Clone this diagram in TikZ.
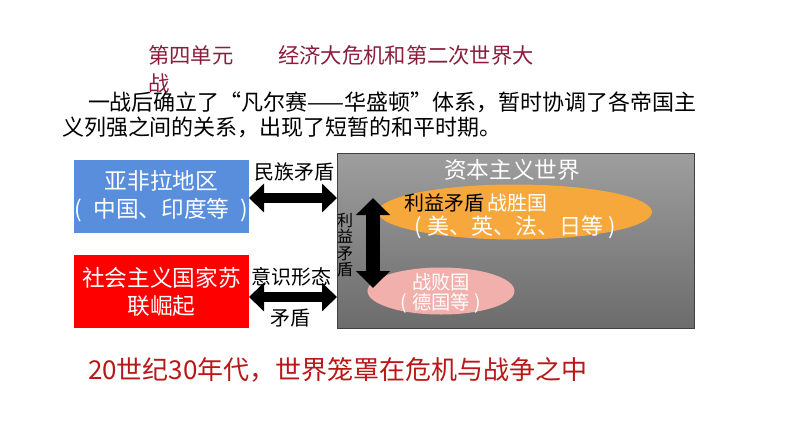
\documentclass[tikz,border=0pt]{standalone}
\usepackage{fontspec}
\newfontfamily\cjk{Noto Sans CJK SC}
\usetikzlibrary{arrows.meta,shapes.geometric}
\definecolor{titlec}{RGB}{140,30,60}
\definecolor{bluebox}{RGB}{88,142,220}
\definecolor{redbox}{RGB}{255,0,0}
\definecolor{graytop}{RGB}{158,158,158}
\definecolor{graybot}{RGB}{108,108,108}
\definecolor{grayedge}{RGB}{64,64,64}
\definecolor{orangec}{RGB}{247,168,60}
\definecolor{pinkc}{RGB}{242,176,172}
\definecolor{bottomred}{RGB}{184,24,24}
\tikzset{
  fsz/.style={font=\cjk\fontsize{#1}{18}\selectfont},
  titletext/.style={font=\cjk\fontsize{16}{19}\selectfont, text=titlec, anchor=west},
  bodytext/.style={font=\cjk\fontsize{16.5}{20}\selectfont, text=black, anchor=west},
  sidebox/.style={minimum width=131.25pt, minimum height=54.75pt, align=center, text=white,
     font=\cjk\fontsize{17}{21}\selectfont},
  hdblarrow/.style={line width=7.5pt, {Triangle[length=11.25pt,width=21pt]}-{Triangle[length=11.25pt,width=21pt]}},
  vdblarrow/.style={line width=11pt, {Triangle[length=12.75pt,width=24.75pt]}-{Triangle[length=12.75pt,width=24.75pt]}},
  lbl/.style={font=\cjk\fontsize{15}{18}\selectfont, text=black},
}
\begin{document}
\begin{tikzpicture}[x=0.75pt,y=-0.75pt, every node/.style={inner sep=0pt, outer sep=0pt}]
\useasboundingbox[fill=white] (0,0) rectangle (794,447);

% title and introduction
\node[titletext] (t1) at (148,55) {第四单元};
\node[titletext] (t2) at (278,55) {经济大危机和第二次世界大};
\node[titletext] (t3) at (148,83) {战};
\node[bodytext] (b1) at (88,102) {一战后确立了“凡尔赛——华盛顿”体系，暂时协调了各帝国主};
\node[bodytext] (b2) at (62,127) {义列强之间的关系，出现了短暂的和平时期。};

% left boxes
\node[sidebox, fill=bluebox] (blue) at (161.5,196.5) {亚非拉地区\\(\enspace 中国、印度等\enspace)};
\node[sidebox, fill=redbox] (red) at (161.5,291.5) {社会主义国家苏\\联崛起};

% capitalist world
\node[minimum width=267.75pt, minimum height=131.25pt, top color=graytop, bottom color=graybot,
      draw=grayedge, line width=0.6pt] (gray) at (515.5,240.5) {};
\node[font=\cjk\fontsize{17}{20}\selectfont, text=white] (gtitle) at (512,170) {资本主义世界};

\node[ellipse, fill=orangec, minimum width=205.5pt, minimum height=41.25pt] (win) at (515,212) {};
\node[ellipse, fill=pinkc, minimum width=110.25pt, minimum height=35.25pt] (lose) at (441,291) {};

\node[fsz=15, text=black, anchor=west] (wl1) at (404,203) {利益矛盾};
\node[fsz=15, text=white, anchor=west] (wl2) at (487,203) {战胜国};
\node[font=\cjk\fontsize{16.5}{20}\selectfont, text=white] (wl3) at (515,227) {(\hspace{0.25em}美、英、法、日等\hspace{0.25em})};
\node[fsz=14.5, text=white] (ll1) at (441,282) {战败国};
\node[fsz=14.5, text=white] (ll2) at (441,303) {(\hspace{0.25em}德国等\hspace{0.25em})};

% connectors
\coordinate (a1s) at (249,198);
\coordinate (a1e) at (337,198);
\coordinate (a2s) at (249,297);
\coordinate (a2e) at (337,297);
\coordinate (v1s) at (373,198);
\coordinate (v1e) at (373,288);
\draw[hdblarrow] (a1s) -- (a1e);
\draw[hdblarrow] (a2s) -- (a2e);
\draw[vdblarrow] (v1s) -- (v1e);

\node[lbl] (lab1) at (294,172) {民族矛盾};
\node[lbl] (lab2) at (291,277) {意识形态};
\node[lbl] (lab3) at (290,318) {矛盾};
\node[font=\cjk\fontsize{12}{12.4}\selectfont, align=center, text=black] (vlab) at (345,245) {利\\益\\矛\\盾};

% bottom line
\node[font=\cjk\fontsize{19.5}{23}\selectfont, text=bottomred, anchor=west] (bottom) at (88,370) {20世纪30年代，世界笼罩在危机与战争之中};
\end{tikzpicture}
\end{document}
